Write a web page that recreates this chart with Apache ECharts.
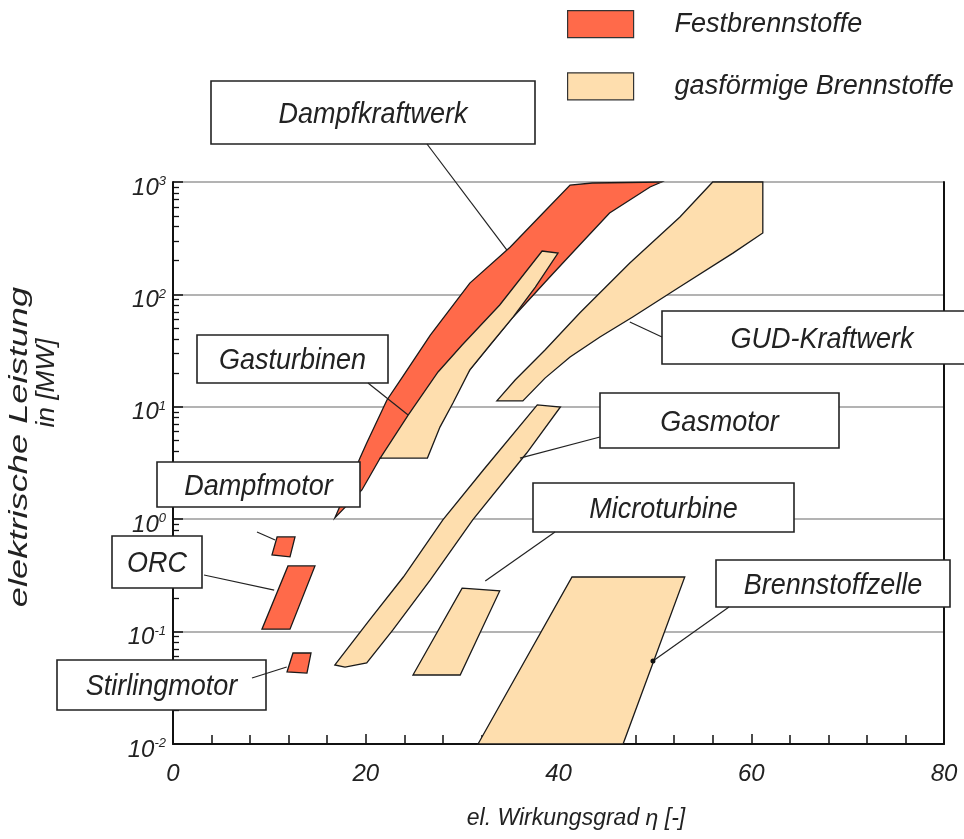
<!DOCTYPE html>
<html><head><meta charset="utf-8">
<script src="https://cdn.jsdelivr.net/npm/echarts@6/dist/echarts.min.js"></script>
<style>html,body{margin:0;padding:0;background:#fff}#c{width:964px;height:839px}</style>
</head><body><div id="c"></div>
<script>
// ---- data (efficiency [%], electric power [MW]) ----
const xTicks = [0, 20, 40, 60, 80];
const yTicks = [0.01, 0.1, 1, 10, 100, 1000];
const seriesNames = ['Festbrennstoffe', 'gasförmige Brennstoffe'];

// Festbrennstoffe
const dampfkraftwerk = [[16.8,1.03],[17.6,1.48],[19.4,3.5],[20.1,4.76],[22.2,11.5],[23.8,18.4],[26.7,43.5],[30.8,126],[35.0,264],[38.4,530],[41.2,940],[43.5,980],[50.7,1000],[49.5,903],[45.3,530],[41.9,259],[39.1,143],[35.3,63],[30.8,21.3],[26.7,7.6],[23.5,4.1],[21.5,3.5],[19.6,1.82],[17.6,1.21]];
const dampfmotor = [[10.8,0.695],[12.66,0.695],[12.14,0.462],[10.27,0.481]];
const orc = [[11.93,0.384],[14.73,0.384],[12.14,0.105],[9.23,0.105]];
const stirlingmotor = [[12.45,0.0645],[14.32,0.0645],[13.9,0.0428],[11.83,0.0437]];

// gasförmige Brennstoffe
const gasturbinen = [[21.5,3.5],[24.4,8.45],[27.5,20.4],[30.0,35.5],[33.9,80.5],[38.3,243],[39.95,233],[37.6,116],[35.3,63],[32.9,35.5],[30.8,21.3],[29.05,10.8],[27.7,6.6],[26.4,3.5]];
const gudKraftwerk = [[33.6,11.3],[35.5,17.3],[38.6,32.0],[42.2,68.3],[47.4,190],[52.6,489],[56.0,1000],[61.2,1000],[61.2,352],[58.1,233],[52.4,114],[47.7,63],[44.3,41.8],[41.2,27.7],[38.6,18.0],[36.3,11.3]];
const gasmotor = [[16.8,0.0505],[20.4,0.127],[23.9,0.306],[28.0,0.985],[32.2,2.74],[37.8,10.4],[40.2,9.96],[36.7,3.88],[31.1,0.985],[26.7,0.288],[22.8,0.103],[20.1,0.0526],[17.85,0.0484]];
const microturbine = [[30.0,0.244],[33.9,0.230],[29.8,0.0411],[24.9,0.0411]];
const brennstoffzelle = [[41.4,0.306],[53.1,0.306],[46.7,0.01],[31.65,0.01]];

const festShapes = [dampfkraftwerk, dampfmotor, orc, stirlingmotor];
const gasShapes = [gasturbinen, gudKraftwerk, gasmotor, microturbine, brennstoffzelle];

// annotation labels and the data point each pointer refers to
const labelNames = ['Dampfkraftwerk','Gasturbinen','GUD-Kraftwerk','Gasmotor','Microturbine','Brennstoffzelle','Dampfmotor','ORC','Stirlingmotor'];
const pointerTargets = [[34.65,248],[24.4,8.45],[47.4,56.8],[36.0,3.5],[32.4,0.282],[49.8,0.0547],[10.6,0.653],[10.5,0.234],[11.8,0.0484]];

// ---- layout (pixels) ----
const boxes = [
  {x:211,y:81,w:324,h:63, from:[427,144]},
  {x:197,y:335,w:191,h:48, from:[368,383]},
  {x:662,y:311,w:320,h:53, from:[662,337]},
  {x:600,y:393,w:239,h:55, from:[600,437]},
  {x:533,y:483,w:261,h:49, from:[555,532]},
  {x:716,y:560,w:234,h:47, from:[729,607]},
  {x:157,y:462,w:203,h:45, from:[257,532]},
  {x:112,y:536,w:90,h:52, from:[204,575]},
  {x:57,y:660,w:209,h:50, from:[252,678]}
];
const FONT = '"Liberation Sans", Arial, sans-serif';
const RED = '#ff6a4a', BEIGE = '#fedeae';

const chart = echarts.init(document.getElementById('c'), null, {renderer:'canvas'});

function polyRender(shapes){
  return function(params, api){
    const pts = shapes[params.dataIndex].map(p => api.coord(p));
    return {type:'polygon', shape:{points:pts},
      style:{fill: api.visual('color'), stroke:'#1a1a1a', lineWidth:1.3}};
  };
}

const option = {
  animation:false,
  backgroundColor:'#fff',
  grid:{left:173, top:182, right:20, bottom:95, containLabel:false},
  legend:{
    data: seriesNames, orient:'vertical', left:567, top:10, padding:0,
    itemWidth:66, itemHeight:27, itemGap:34, icon:'rect',
    itemStyle:{borderColor:'#333', borderWidth:1.2},
    textStyle:{fontFamily:FONT, fontStyle:'italic', fontSize:27, color:'#222', padding:[0,0,0,36]}
  },
  xAxis:{
    type:'value', min:xTicks[0], max:xTicks[xTicks.length-1], interval:20,
    axisLine:{show:true, lineStyle:{color:'#111', width:2}},
    axisTick:{show:true, inside:true, length:10, lineStyle:{color:'#111', width:1.5}},
    minorTick:{show:true, splitNumber:5, length:9, lineStyle:{color:'#111', width:1.5}},
    splitLine:{show:false},
    axisLabel:{margin:18, fontFamily:FONT, fontStyle:'italic', fontSize:24, color:'#222',
      formatter: v => xTicks.includes(v) ? String(v) : ''}
  },
  yAxis:[{
    type:'log', logBase:10, min:yTicks[0], max:yTicks[yTicks.length-1],
    axisLine:{show:true, lineStyle:{color:'#111', width:2}},
    axisTick:{show:true, inside:true, length:10, lineStyle:{color:'#111', width:1.5}},
    minorTick:{show:true, splitNumber:9, length:6, lineStyle:{color:'#111', width:1.3}},
    splitLine:{show:true, lineStyle:{color:'#9a9a9a', width:1.5}},
    axisLabel:{margin:7, padding:[12,0,0,0],
      formatter: v => { const e = Math.round(Math.log10(v)); return '{b|10}{s|' + e + '}'; },
      rich:{
        b:{fontFamily:FONT, fontStyle:'italic', fontSize:24, color:'#222'},
        s:{fontFamily:FONT, fontStyle:'italic', fontSize:13, color:'#222', verticalAlign:'top', padding:[0,0,13,0]}
      }}
  },{
    type:'log', logBase:10, min:yTicks[0], max:yTicks[yTicks.length-1], position:'right',
    axisLine:{show:true, lineStyle:{color:'#111', width:2}},
    axisTick:{show:false}, axisLabel:{show:false}, splitLine:{show:false}
  }],
  series:[
    {name:seriesNames[0], type:'custom', color:RED, renderItem:polyRender(festShapes),
      data: festShapes.map(s => s[0]), z:2, clip:false},
    {name:seriesNames[1], type:'custom', color:BEIGE, renderItem:polyRender(gasShapes),
      data: gasShapes.map(s => s[0]), z:3, clip:false}
  ]
};
chart.setOption(option);

// annotation boxes and pointers (pointer ends converted from data through the chart's scales)
const g = [];
boxes.forEach((b, i) => {
  g.push({type:'rect', z:100, shape:{x:b.x, y:b.y, width:b.w, height:b.h},
    style:{fill:'#fff', stroke:'#222', lineWidth:1.6}});
  g.push({type:'text', z:101, x:b.x + b.w/2, y:b.y + b.h/2 + 2, scaleY:1.1,
    style:{text:labelNames[i], align:'center', verticalAlign:'middle', fontFamily:FONT,
      fontStyle:'italic', fontSize:27, fill:'#222'}});
});
boxes.forEach((b, i) => {
  const p = chart.convertToPixel({xAxisIndex:0, yAxisIndex:0}, pointerTargets[i]);
  g.push({type:'line', z:102, shape:{x1:b.from[0], y1:b.from[1], x2:p[0], y2:p[1]},
    style:{stroke:'#222', lineWidth:1.2}});
  if (i === 5) g.push({type:'circle', z:103, shape:{cx:p[0], cy:p[1], r:2.5}, style:{fill:'#111'}});
});
g.push({type:'text', z:101, x:20, y:447, rotation:Math.PI/2, scaleX:1.45,
  style:{text:'elektrische Leistung', align:'center', verticalAlign:'middle', fontFamily:FONT,
    fontStyle:'italic', fontSize:25, fill:'#222'}});
g.push({type:'text', z:101, x:47, y:383, rotation:Math.PI/2, scaleX:1.05,
  style:{text:'in [MW]', align:'center', verticalAlign:'middle', fontFamily:FONT,
    fontStyle:'italic', fontSize:25, fill:'#222'}});
g.push({type:'text', z:101, x:576, y:819,
  style:{text:'el. Wirkungsgrad η [-]', align:'center', verticalAlign:'middle', fontFamily:FONT,
    fontStyle:'italic', fontSize:23, fill:'#222'}});
chart.setOption({graphic:g});
</script>
</body></html>
